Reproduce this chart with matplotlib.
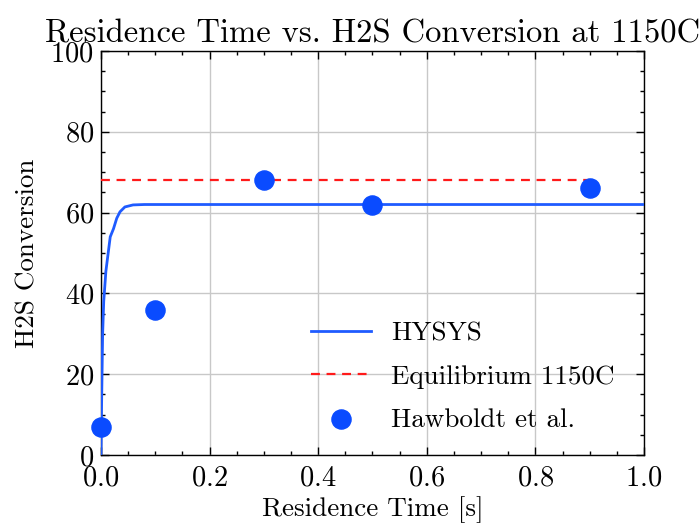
import matplotlib
matplotlib.use("Agg")
import matplotlib.pyplot as plt
from matplotlib.ticker import MultipleLocator

# HYSYS simulated conversion profile
hysys_time = [0.0, 0.001, 0.003, 0.005, 0.009, 0.017, 0.023, 0.029, 0.035, 0.044, 0.059, 0.08, 0.2, 0.5, 1.0]
hysys_conv = [0.0, 12.0, 30.0, 38.0, 45.5, 54.0, 56.0, 58.6, 60.2, 61.4, 61.9, 62.0, 62.0, 62.0, 62.0]

# Equilibrium conversion at 1150C
equil_time = [0.0, 0.9]
equil_conv = [68.0, 68.0]

# Experimental data (Hawboldt et al.)
exp_time = [0.0, 0.1, 0.3, 0.5, 0.9]
exp_conv = [7.0, 36.0, 68.0, 62.0, 66.0]

plt.rcParams.update({
    "font.family": "serif",
    "font.serif": ["cmr10", "DejaVu Serif"],
    "mathtext.fontset": "cm",
    "axes.unicode_minus": False,
    "axes.formatter.use_mathtext": True,
    "xtick.direction": "in",
    "ytick.direction": "in",
    "xtick.top": True,
    "ytick.right": True,
    "xtick.major.size": 6,
    "ytick.major.size": 6,
    "xtick.minor.size": 3,
    "ytick.minor.size": 3,
    "xtick.major.width": 1.0,
    "ytick.major.width": 1.0,
    "xtick.minor.width": 1.0,
    "ytick.minor.width": 1.0,
    "axes.linewidth": 1.0,
})

fig = plt.figure(figsize=(6.99, 5.29), dpi=100)
ax = fig.add_axes([0.1445, 0.1399, 0.7768, 0.7637])

ax.plot(hysys_time, hysys_conv, color="#1F5BFF", lw=2.0, label="HYSYS", zorder=3)
ax.plot(equil_time, equil_conv, color="#FF1A1A", lw=1.6, ls=(0, (4, 3)),
        label="Equilibrium 1150C", zorder=3)
ax.scatter(exp_time, exp_conv, s=190, color="#0A4BFF", label="Hawboldt et al.",
           zorder=4, clip_on=False)

ax.set_xlim(0, 1.0)
ax.set_ylim(0, 100)
ax.xaxis.set_major_locator(MultipleLocator(0.2))
ax.xaxis.set_minor_locator(MultipleLocator(0.05))
ax.yaxis.set_major_locator(MultipleLocator(20))
ax.yaxis.set_minor_locator(MultipleLocator(5))
ax.grid(True, which="major", color="#C8C8C8", lw=1.0)
ax.set_axisbelow(True)

ax.tick_params(axis="both", labelsize=20.5)
ax.tick_params(axis="x", pad=7)
ax.tick_params(axis="y", pad=5)
ax.set_xlabel("Residence Time [s]", fontsize=19.5, labelpad=4)
ax.set_ylabel("H2S Conversion", fontsize=19.5, labelpad=8)
ax.set_title("Residence Time vs. H2S Conversion at 1150C", fontsize=23.5, pad=6)

ax.legend(loc="upper left", bbox_to_anchor=(0.342, 0.39), frameon=False,
          fontsize=19.5, handlelength=2.2, handletextpad=0.75, labelspacing=0.7)

fig.savefig("out.png", dpi=100)
